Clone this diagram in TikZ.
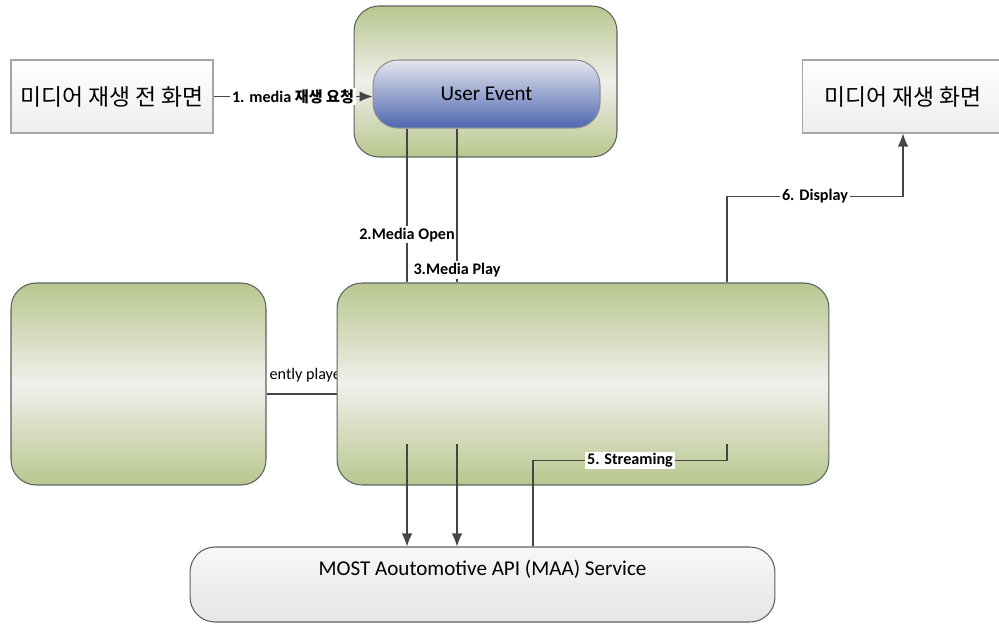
\documentclass[tikz,border=0pt]{standalone}
\usepackage{fontspec}
\setmainfont{Carlito}
\newfontfamily\kr{Noto Sans CJK KR}
\usetikzlibrary{arrows.meta,positioning,calc,backgrounds}

\definecolor{BoxGreen}{HTML}{B8C78E}
\definecolor{BoxLight}{HTML}{F0F0EC}
\definecolor{EventTop}{HTML}{E4E6EE}
\definecolor{EventBlue}{HTML}{4E66B0}
\definecolor{LineGray}{HTML}{454545}
\definecolor{EdgeGray}{HTML}{5F5F5F}

\tikzset{
    % Base node style
    basenode/.style={
        draw=EdgeGray,
        line width=0.6pt,
        align=center,
        inner sep=0pt
    },
    % Green container
    greennode/.style={
        basenode,
        rounded corners=0.5cm,
        top color=BoxGreen,
        bottom color=BoxGreen,
        middle color=BoxLight
    },
    % Screen box
    screennode/.style={
        basenode,
        draw=gray!70,
        top color=white,
        bottom color=gray!14,
        minimum width=4.04cm,
        minimum height=1.46cm,
        font=\kr\fontsize{13}{15}\selectfont
    },
    % Event box
    eventnode/.style={
        basenode,
        draw=EdgeGray!70,
        rounded corners=0.5cm,
        top color=EventTop,
        bottom color=EventBlue,
        minimum width=4.54cm,
        minimum height=1.36cm,
        font=\fontsize{12}{14}\selectfont
    },
    % Service box
    servicenode/.style={
        basenode,
        rounded corners=0.5cm,
        top color=gray!6,
        bottom color=gray!20,
        minimum width=11.7cm,
        minimum height=1.5cm,
        text height=0.3cm,
        text depth=0.68cm,
        font=\fontsize{12}{14}\selectfont
    },
    % Connector label
    labelnode/.style={
        fill=white,
        inner sep=1pt,
        font=\bfseries\fontsize{9.2}{11}\selectfont
    },
    % Plain connector
    myline/.style={
        line width=0.7pt,
        draw=LineGray
    },
    % Arrow connector
    myarrow/.style={
        myline,
        -{Latex[length=2.6mm,width=2.1mm]}
    }
}

\begin{document}
\begin{tikzpicture}[x=0.02cm, y=-0.02cm]
    \useasboundingbox (0,0) rectangle (999,625);

    % Top row
    \node[screennode] (before) at (112,96.5) {미디어 재생 전 화면};
    \node[greennode, minimum width=5.26cm, minimum height=3.02cm] (ui) at (485.5,81.5) {};
    \node[eventnode] (event) at (486.5,94) {User Event};
    \node[screennode, minimum width=4.04cm] (playing) at (903,96.5) {미디어 재생 화면};

    % Middle row
    \node[greennode, minimum width=5.1cm, minimum height=4.04cm] (recent) at (138.5,384) {};
    \node[greennode, minimum width=9.84cm, minimum height=4.04cm] (player) at (583,384) {};

    % Bottom
    \node[servicenode] (maa) at (482.5,584.5) {MOST Aoutomotive API (MAA) Service};

    % Connector points
    \coordinate (open) at ([xshift=-1.59cm]event.south);
    \coordinate (play) at ([xshift=-0.59cm]event.south);
    \coordinate (stream) at ([xshift=1.01cm]maa.north);
    \coordinate (disp) at ([xshift=2.88cm]player.north);

    % Arrows
    \draw[myarrow] (before.east) -- node[labelnode] {1. media {\kr\fontsize{8.6}{11}\selectfont 재생 요청}} (before.east -| event.west);
    \draw[myline] (open) -- node[labelnode, pos=0.69] {2.Media Open} (open |- player.north);
    \draw[myline] (play) -- node[labelnode, pos=0.92] {3.Media Play} (play |- player.north);
    \draw[myarrow] ($(open |- player.south)+(0,-42)$) -- (open |- maa.north);
    \draw[myarrow] ($(play |- player.south)+(0,-42)$) -- (play |- maa.north);
    \draw[myline] (stream) |- node[labelnode, pos=0.75] {5. Streaming} ($(disp |- player.south)+(0,-25)$) -- ($(disp |- player.south)+(0,-42)$);
    \draw[myarrow] (disp) |- node[labelnode, pos=0.75] {6. Display} ($(playing.south)+(0,63)$) -- (playing.south);

    % Behind the boxes
    \begin{pgfonlayer}{background}
        \draw[myline] ($(recent.east)+(0,10)$) -- ($(player.west)+(0,10)$);
        \node[labelnode, font=\fontsize{9.2}{11}\selectfont, anchor=west] (recentlbl) at ($(recent.east)+(1,-9)$) {ently played};
    \end{pgfonlayer}
\end{tikzpicture}
\end{document}
